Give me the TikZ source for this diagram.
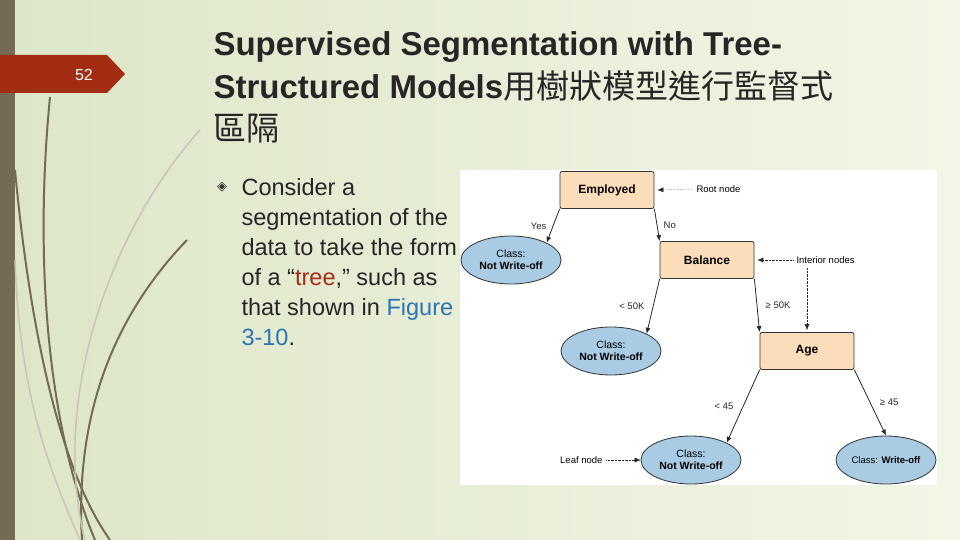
\documentclass[tikz,border=0pt]{standalone}
\usepackage{fontspec}
\setmainfont{Liberation Sans}
\newfontfamily\cjk{Noto Sans CJK TC}
\newfontfamily\dv{DejaVu Sans}
\usetikzlibrary{shapes.geometric,arrows.meta}
\definecolor{bgA}{HTML}{DDE6C8}
\definecolor{bgB}{HTML}{F2F6E6}
\definecolor{barc}{HTML}{756B55}
\definecolor{tabc}{HTML}{A32D12}
\definecolor{boxc}{HTML}{FBDDBA}
\definecolor{ellc}{HTML}{A9CBE3}
\definecolor{linkc}{HTML}{2E74B5}
\tikzset{
  dbox/.style={draw=black!80,thick,fill=boxc,rounded corners=2pt,minimum width=94pt,minimum height=37pt,font=\fontsize{12}{13}\selectfont\bfseries},
  leaf/.style={draw=black!80,thick,fill=ellc,ellipse,minimum width=100pt,minimum height=48pt,align=center,inner sep=0pt,font=\fontsize{10.5}{12}\selectfont},
  lab/.style={font=\fontsize{9.5}{11}\selectfont},
  edge/.style={-{Latex[length=6pt,width=5pt]},thick,black!85},
  note/.style={{Latex[length=6pt,width=5pt]}-,densely dotted,black!85},
  curve/.style={barc,line width=2pt},
  ttl/.style={anchor=base west,font=\fontsize{33}{33}\selectfont\bfseries,text=black!85},
}
\begin{document}
\begin{tikzpicture}[x=1pt,y=-1pt]
\useasboundingbox (0,0) rectangle (960,540);
\shade[left color=bgA,right color=bgB] (0,0) rectangle (960,540);
\fill[barc] (0,0) rectangle (15,540);
% curves
\draw[curve] (50,97) .. controls (35,250) and (45,420) .. (95,540);
\draw[curve] (15,170) .. controls (30,330) and (60,470) .. (110,540);
\draw[curve] (187,240) .. controls (110,320) and (75,420) .. (82,540);
\draw[barc!40,line width=1.5pt] (200,130) .. controls (110,230) and (50,400) .. (85,540);
\draw[barc!40,line width=1.5pt] (15,260) .. controls (20,400) and (50,470) .. (80,540);
% tab
\fill[tabc] (0,55) -- (107,55) -- (125,74) -- (107,93) -- (0,93) -- cycle;
\node[text=white,font=\fontsize{16}{16}\selectfont] (num) at (84,75) {52};
% title
\node[ttl] (t1) at (210,56) {Supervised Segmentation with Tree-};
\node[ttl] (t2) at (210,99) {Structured Models{\cjk\mdseries 用樹狀模型進行監督式}};
\node[ttl] (t3) at (210,141) {\cjk\mdseries 區隔};
% bullet
\node[font=\fontsize{13}{13}\selectfont\dv,text=black!80] (bul) at (222,187) {◈};
\begin{scope}[every node/.style={anchor=base west,font=\fontsize{23.5}{24}\selectfont,text=black!85}]
\node (b1) at (238,195) {Consider a};
\node (b2) at (238,225) {segmentation of the};
\node (b3) at (238,255) {data to take the form};
\node (b4) at (238,285) {of a “\textcolor{tabc}{tree},” such as};
\node (b5) at (238,315) {that shown in \textcolor{linkc}{Figure}};
\node (b6) at (238,345) {\textcolor{linkc}{3-10}.};
\end{scope}
% figure
\fill[white] (460,170) rectangle (937,485);
\node[dbox] (emp) at (607,190) {Employed};
\node[dbox] (bal) at (707,260) {Balance};
\node[dbox] (age) at (807,351) {Age};
\node[leaf] (l1) at (511,260) {Class:\\\textbf{Not Write-off}};
\node[leaf] (l2) at (611,351) {Class:\\\textbf{Not Write-off}};
\node[leaf] (l3) at (691,460) {Class:\\\textbf{Not Write-off}};
\node[leaf,font=\fontsize{9.5}{11}\selectfont] (l4) at (886,460) {Class: \textbf{Write-off}};
\draw[edge] (emp.south west) ++(0,0) -- (l1.north east) node[lab,midway,left=3pt] {Yes};
\draw[edge] (emp.south east) -- (bal.north west) node[lab,midway,right=3pt] {No};
\draw[edge] (bal.south west) -- (l2.north east) node[lab,midway,left=5pt] {< 50K};
\draw[edge] (bal.south east) -- (age.north west) node[lab,midway,right=5pt] {≥ 50K};
\draw[edge] (age.south west) -- (l3.north east) node[lab,midway,left=6pt] {< 45};
\draw[edge] (age.south east) -- (l4.north) node[lab,midway,right=6pt] {≥ 45};
\node[lab,anchor=west] (rn) at (693,189) {Root node};
\node[lab,anchor=west] (in) at (793,260) {Interior nodes};
\node[lab,anchor=east] (ln) at (606,460) {Leaf node};
\draw[note] (emp.east) ++(3,0) coordinate (ea) (ea) -- (rn.west);
\draw[note] (bal.east) ++(3,0) coordinate (ba) (ba) -- (in.west);
\draw[note] (age.north) ++(0,-2) coordinate (aa) (aa) -- (aa|-in.south);
\draw[note] (l3.west) -- (ln.east);
\end{tikzpicture}
\end{document}
